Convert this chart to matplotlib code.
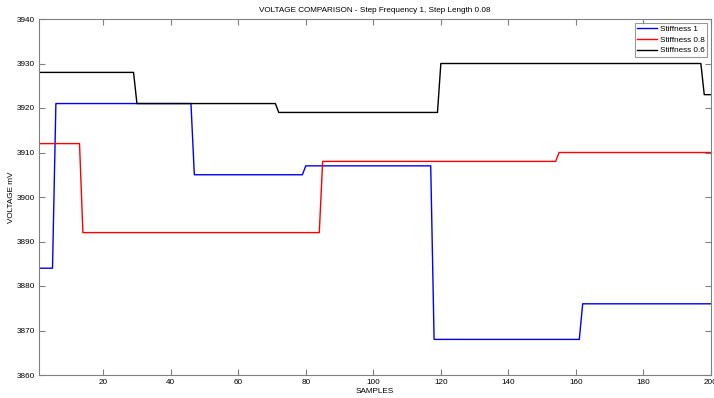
import matplotlib
matplotlib.use("Agg")
import matplotlib.pyplot as plt

# Breakpoints (sample index, voltage mV)
s1_x = [1, 5, 6, 46, 47, 79, 80, 117, 118, 161, 162, 200]
s1_y = [3884, 3884, 3921, 3921, 3905, 3905, 3907, 3907, 3868, 3868, 3876, 3876]

s08_x = [1, 13, 14, 84, 85, 154, 155, 200]
s08_y = [3912, 3912, 3892, 3892, 3908, 3908, 3910, 3910]

s06_x = [1, 29, 30, 71, 72, 119, 120, 197, 198, 200]
s06_y = [3928, 3928, 3921, 3921, 3919, 3919, 3930, 3930, 3923, 3923]

labels = ["Stiffness 1", "Stiffness 0.8", "Stiffness 0.6"]
xticks = [20, 40, 60, 80, 100, 120, 140, 160, 180, 200]
yticks = [3860, 3870, 3880, 3890, 3900, 3910, 3920, 3930, 3940]

plt.rcParams['font.family'] = ['Liberation Sans', 'DejaVu Sans']
fs = 5.9

fig = plt.figure(figsize=(7.14, 3.98), dpi=100)
ax = fig.add_axes([39/714, 1 - 375/398, (711 - 39)/714, (375 - 19)/398])

ax.plot(s1_x, s1_y, color='#0000ff', lw=1.0, label=labels[0])
ax.plot(s08_x, s08_y, color='#ff0000', lw=1.0, label=labels[1])
ax.plot(s06_x, s06_y, color='#000000', lw=1.0, label=labels[2])

ax.set_xlim(1, 200)
ax.set_ylim(3860, 3940)
ax.set_xticks(xticks)
ax.set_yticks(yticks)
ax.tick_params(direction='in', top=True, right=True, labelsize=fs, length=4,
               width=0.8, color='#808080', pad=3)
for sp in ax.spines.values():
    sp.set_color('#808080')
    sp.set_linewidth(0.8)

ax.set_title("VOLTAGE COMPARISON - Step Frequency 1, Step Length 0.08",
             fontsize=fs, pad=5)
ax.set_xlabel("SAMPLES", fontsize=fs, labelpad=1)
ax.set_ylabel("VOLTAGE mV", fontsize=fs, labelpad=1)

leg = ax.legend(loc='upper right', fontsize=fs, frameon=True, fancybox=False,
                edgecolor='#808080', handlelength=2.4, borderpad=0.35,
                labelspacing=0.35, handletextpad=0.3, borderaxespad=0.45)
leg.get_frame().set_linewidth(0.8)

fig.savefig("out.png", dpi=100)
